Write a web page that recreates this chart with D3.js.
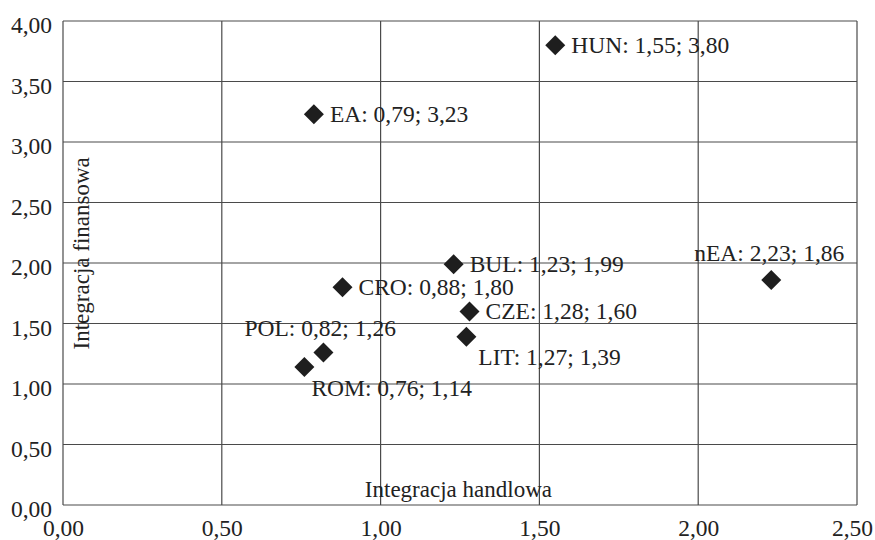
<!DOCTYPE html>
<html>
<head>
<meta charset="utf-8">
<script src="https://cdn.jsdelivr.net/npm/d3@7"></script>
<style>
  body { margin: 0; background: #fff; }
  svg text { font-family: "Liberation Serif", "Times New Roman", serif; fill: #222; }
</style>
</head>
<body>
<div id="chart"></div>
<script>
const width = 875;
const height = 540;

// dane
const countries = ["HUN", "EA", "BUL", "CRO", "CZE", "LIT", "POL", "ROM", "nEA"];
const tradeVals = [1.55, 0.79, 1.23, 0.88, 1.28, 1.27, 0.82, 0.76, 2.23];
const finVals = [3.80, 3.23, 1.99, 1.80, 1.60, 1.39, 1.26, 1.14, 1.86];
const labelPos = ["right", "right", "right", "right", "right", "belowRight", "aboveLeft", "below", "above"];
const xTicks = [0, 0.5, 1, 1.5, 2, 2.5];
const yTicks = [0, 0.5, 1, 1.5, 2, 2.5, 3, 3.5, 4];

const margin = { top: 21, right: 18, bottom: 35, left: 63 };
const fmt = v => v.toFixed(2).replace(".", ",");
const fontFam = "Liberation Serif";

const svg = d3.select("#chart").append("svg")
  .attr("width", width)
  .attr("height", height);

const x = d3.scaleLinear().domain([0, 2.5]).range([margin.left, width - margin.right]);
const y = d3.scaleLinear().domain([0, 4]).range([height - margin.bottom, margin.top]);

// siatka
svg.append("g")
  .selectAll("line")
  .data(yTicks)
  .join("line")
  .attr("x1", x(0)).attr("x2", x(2.5))
  .attr("y1", d => y(d)).attr("y2", d => y(d))
  .attr("stroke", "#4a4a4a").attr("stroke-width", 1.2);

svg.append("g")
  .selectAll("line")
  .data(xTicks)
  .join("line")
  .attr("x1", d => x(d)).attr("x2", d => x(d))
  .attr("y1", y(0)).attr("y2", y(4))
  .attr("stroke", "#4a4a4a").attr("stroke-width", 1.2);

// osie
const yAxis = svg.append("g")
  .attr("transform", `translate(${x(0)},0)`)
  .call(d3.axisLeft(y).tickValues(yTicks).tickFormat(fmt).tickSize(0).tickPadding(11));
yAxis.select(".domain").remove();
yAxis.selectAll("text")
  .style("font-family", fontFam)
  .style("font-size", "23.5px")
  .attr("dy", "0.5em")
  .attr("fill", "#222");

const xAxis = svg.append("g")
  .attr("transform", `translate(0,${y(0)})`)
  .call(d3.axisBottom(x).tickValues(xTicks).tickFormat(fmt).tickSize(0).tickPadding(14));
xAxis.select(".domain").remove();
xAxis.selectAll("text")
  .style("font-family", fontFam)
  .style("font-size", "23.5px")
  .attr("fill", "#222")
  .attr("dx", d => d === 2.5 ? -5 : 0); // ostatnia etykieta przesunięta, żeby się zmieściła

// tytuły osi
svg.append("text")
  .attr("transform", `translate(${x(0) + 26},${y(2.08)}) rotate(-90)`)
  .attr("text-anchor", "middle")
  .style("font-family", fontFam)
  .style("font-size", "23px")
  .text("Integracja finansowa");

svg.append("text")
  .attr("x", x(1.245))
  .attr("y", y(0.065))
  .attr("text-anchor", "middle")
  .style("font-family", fontFam)
  .style("font-size", "23px")
  .text("Integracja handlowa");

// punkty
const points = countries.map((c, i) => ({ name: c, tx: tradeVals[i], fy: finVals[i], pos: labelPos[i] }));

const symbol = d3.symbol().type(d3.symbolSquare).size(200);

svg.append("g")
  .selectAll("path")
  .data(points)
  .join("path")
  .attr("d", symbol)
  .attr("transform", d => `translate(${x(d.tx)},${y(d.fy)}) rotate(45)`)
  .attr("fill", "#1e1e1e");

const offsets = {
  right: [16, 8, "start"],
  belowRight: [12, 28, "start"],
  aboveLeft: [-79, -17, "start"],
  below: [7, 29, "start"],
  above: [-2, -19, "middle"]
};

svg.append("g")
  .selectAll("text")
  .data(points)
  .join("text")
  .attr("x", d => x(d.tx) + offsets[d.pos][0])
  .attr("y", d => y(d.fy) + offsets[d.pos][1])
  .attr("text-anchor", d => offsets[d.pos][2])
  .style("font-family", fontFam)
  .style("font-size", "23.5px")
  .text(d => `${d.name}: ${fmt(d.tx)}; ${fmt(d.fy)}`);
</script>
</body>
</html>
